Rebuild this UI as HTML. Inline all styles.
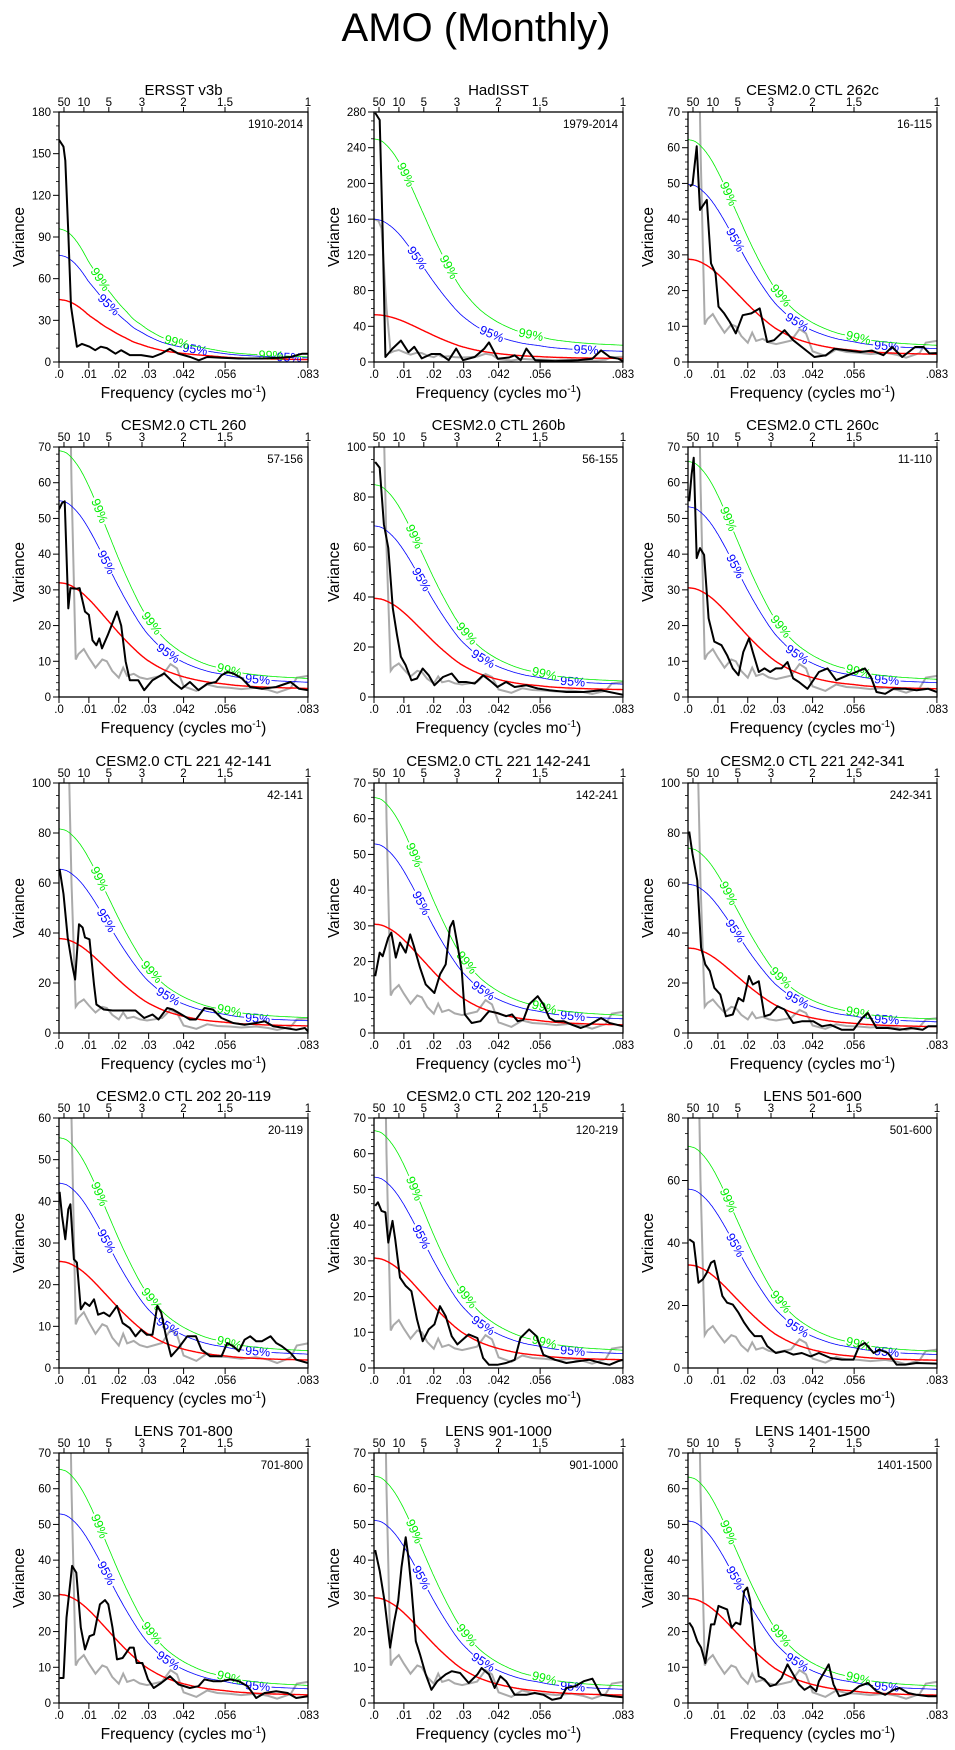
<!DOCTYPE html>
<html><head><meta charset="utf-8"><style>
html,body{margin:0;padding:0;background:#fff;}
svg{display:block;font-family:"Liberation Sans",Arial,sans-serif;}
</style></head><body>
<svg id="fig" width="955" height="1750" viewBox="0 0 955 1750" xmlns="http://www.w3.org/2000/svg">
<rect width="955" height="1750" fill="#fff"/>
<text x="476" y="41" font-size="40" text-anchor="middle">AMO (Monthly)</text>
</svg>
<script>
// ---- chart data (frequencies in 10^-3 cycles/month) ----
const panelTitles=["ERSST v3b","HadISST","CESM2.0 CTL 262c","CESM2.0 CTL 260","CESM2.0 CTL 260b","CESM2.0 CTL 260c","CESM2.0 CTL 221 42-141","CESM2.0 CTL 221 142-241","CESM2.0 CTL 221 242-341","CESM2.0 CTL 202 20-119","CESM2.0 CTL 202 120-219","LENS 501-600","LENS 701-800","LENS 901-1000","LENS 1401-1500"];
const rangeLabels=["1910-2014","1979-2014","16-115","57-156","56-155","11-110","42-141","142-241","242-341","20-119","120-219","501-600","701-800","901-1000","1401-1500"];
const yMax=[180,280,70,70,100,70,100,70,100,60,70,80,70,70,70];
const yStep=[30,40,10,10,20,10,20,10,20,10,10,20,10,10,10];
const minorPer=[3,4,5,5,4,5,4,5,4,5,5,4,5,5,5];
const redStart=[45,53,28.8,32,39.5,30.6,37.8,30.5,34,25.6,30.8,33,30.4,29.5,29.3];
const blueStart=[77,160,49.8,55,68.5,53.3,65.6,53,59.5,44.4,53.5,57.3,53,51.2,51];
const greenStart=[96,250,62.3,69,85,66,81.7,66,74,55.3,66.5,71,65.5,63.6,63.3];
const shapeKind=["obs","model","model","model","model","model","model","model","model","model","model","model","model","model","model"];
const shapeF=[0,2.5,5,7.5,10,12.5,15,17.5,20,22.5,25,27.5,30,35,40,45,50,55,60,70,83.3];
const shapeModel=[1,.99,.96,.915,.855,.785,.71,.635,.56,.49,.425,.365,.315,.24,.19,.155,.13,.115,.10,.085,.075];
const shapeObs=[1,.98,.93,.85,.75,.665,.58,.51,.44,.38,.32,.28,.24,.18,.145,.12,.1,.08,.065,.05,.038];
const label99F=[[13.8,39.4,71],[10.6,25,52.5]];
const label95F=[[16.6,45.5,77],[14.4,39.4,71]];
const label99Default=[13.5,31,57];
const label95Default=[15.8,36.5,66.5];
const grayF=[0,1.5,2.5,4.2,5.6,6.5,8.3,10,12.2,14.5,16,17.8,20,21.5,22.8,25,27,29.5,32,34.5,37.3,39.5,41.7,46,49.6,53,57,61,66,70,73,77.5,79.6,83.3];
const grayV=[160,158,150,60,10.5,12,13.4,11,8.2,10.5,10,7.3,5.4,8.2,5.9,6.5,5.5,5,5.5,6,9.2,8,3,1.7,3.5,2.8,2.6,2.2,2.6,2,1.2,2.5,5.4,5.9];
const xTickF=[0,10,20,30,41.7,55.6,83.3];
const xTickLabels=[".0",".01",".02",".03",".042",".056",".083"];
const topPeriods=[50,10,5,3,2,1.5,1];
const topLabels=["50","10","5","3","2","1.5","1"];

const blackF1=[0,1.5,2.1,3.1,4,6,7.7,10.2,12.1,14,16,18.9,20.8,23.7,27.5,31.4,34.2,37.1,40,43.9,46.8,49.6,54.4,60.2,67.9,73.7,77.5,81.4,83.3];
const blackV1=[160,155,145,93,40,11,13,11,8.5,11,10,6,8.5,5,5,3.6,6,9.6,6,3.6,1.2,3.6,3,2.5,2.5,3,3.6,6,6];
const blackF2=[0.4,1.9,2.9,3.8,6.2,9,11.5,13.5,16,19.2,22.1,25,27.5,29.8,33.7,36.9,38.5,41.4,45.2,47.1,49.1,51,53.9,60.6,68.3,73.1,76,78.9,81.8,83.3];
const blackV2=[279,271,144,5.6,15,24,11,17,4,9,9,2,15,2,5.6,15,22,3.7,5,7.5,2,15,2,1,2,3.7,13,5.6,3.7,1];
const blackF3=[0.6,1.5,2.9,4,6.3,7.7,9.2,10.2,12.1,14,16,18.3,21.2,24,26.5,28.8,32.3,35.2,38.1,42.3,46.2,49,53.8,57.7,61.5,65.4,68.3,71.7,76,78.8,80.8,83.3];
const blackV3=[49.2,49.7,60.4,42.6,45.4,27.6,24.8,15.5,13.6,11.2,8,13.1,13.6,15,5.6,6.1,8.9,6.1,4.2,1.4,1.9,3.7,3.2,2.8,3.2,1.9,4.2,1.4,4.2,4.2,2.4,2.5];
const blackF4=[0,1,1.9,3.1,3.8,5.8,6.9,8.7,10,11.2,12.5,13.5,14.4,16.3,19.4,20.8,22.3,23.7,26.5,28.5,31.3,35.2,38.1,41,43.8,46.7,49.6,52.5,54.4,56.3,58.3,61.2,64,67.9,72.7,77.5,80.4,83.3];
const blackV4=[52.5,54.3,54.8,24.8,30.5,30.3,30.5,23.9,23,15.9,14.5,16.4,13.6,17.3,23.9,20,10,4.7,4.7,1.9,4.7,6.6,4.2,2.3,4.2,1.9,3.7,4.2,6.1,7,6.6,5.2,2.8,2.3,2.8,4.2,2.3,1.9];
const blackF5=[0.4,1.9,3.3,4.8,6.3,7.7,9,10.6,12.5,14.4,16.3,18.3,20.2,23.1,26,28.3,30.8,33.7,36.5,39.4,41.3,44.2,47.1,51,54.8,58.7,64.4,70.2,76,83.3];
const blackV5=[94,91.7,69,59.6,35.5,24.8,16.1,12.7,6.7,7.4,11.4,8.7,4.7,8,9.4,6,6,5.4,8.7,6,4,6,4,4.7,3.4,2.7,2,2,2.7,0.9];
const blackF6=[0.4,1.2,1.9,2.9,4,5.4,6.9,8.8,11.2,13.1,15,16.9,18.5,20.4,21.7,23.7,25.6,27.5,29.4,31.3,33.3,35.2,37.1,40,43.8,46.7,49.6,53.5,56.3,59.2,61.2,63.1,66,68.8,72.7,76.5,80.4,83.3];
const blackV6=[54.8,62.3,67,38.9,41.7,39.8,22,15.5,14.5,11.7,8,6.1,12.6,16.4,12.6,7,8,7,8,8,9.8,5.2,4.2,2.3,7,8,4.7,6.1,7,8,5.6,1.4,0.9,2.3,2.3,1.9,2.3,1.4];
const blackF7=[0.2,1.5,2.9,4.4,5.4,6.7,7.9,8.7,10.2,11.7,12.5,15,17.9,21.7,25.6,28.5,31.3,33.3,36.2,38.1,41,43.8,45.8,48.7,51.5,54.4,58.3,62.1,66,68.8,71.7,75.6,79.4,82.3,83.3];
const blackV7=[65.6,55.6,38.2,27.4,21.4,43.5,42.2,38.2,37.5,19.4,11.4,9.4,9,9,9,6,7.4,5.4,10,9.4,7.4,5.4,5.4,10,9.4,6,4,3.3,4,4.7,2.7,2,1.3,2,0.7];
const blackF8=[0.4,1.9,2.9,4.8,5.8,7.3,8.7,10.6,12.1,13.5,15.4,17.3,20.2,22.1,24,25.4,26.5,27.9,29.4,30.4,32.7,35.6,38.5,41.3,44.2,46.2,48.1,50,51.9,54.8,56.7,58.7,60.6,63.5,66.3,69.2,72.1,76,78.8,83.3];
const blackV8=[15.9,22.5,21.5,26.7,28.1,21.1,25.3,22.5,27.6,23.9,18.3,13.6,11.2,16.4,19.2,29.5,31.4,24.8,17.3,5.2,2.8,3.3,6.1,5.6,4.7,5.2,3.3,3.7,8,10.3,8,4.2,3.3,3.3,2.3,1.4,2.3,4.2,2.8,1.9];
const blackF9=[0.4,1.5,3.1,4.4,5.8,7.3,8.8,10.8,12.7,15,16.9,18.5,20.4,21.7,23.7,25.6,27.5,30,32.3,35.2,38.1,41.9,44.8,47.7,51.5,55.4,58.3,60.2,63.1,66.9,70.8,74.6,78.5,80.4,83.3];
const blackV9=[80.6,71.6,61,34.1,27.4,24.8,18.1,15.4,6.7,7.4,14,12.7,22.8,19.4,20.7,6.7,7.4,10.7,9.4,4,4.7,4.7,2.7,3.3,1.3,1.3,6,8,2,2,1.3,2,1.3,2.7,2.7];
const blackF10=[0.2,1,2.1,3.1,3.8,5,6,7.3,8.7,10.2,11.7,13.1,15,16.9,19.4,21.3,23.7,25.6,27.5,29.4,31.3,32.9,34.2,35.8,37.5,40,42.9,45.8,47.7,50.6,54.4,56.3,58.3,60.2,62.1,64,66,67.9,70.8,72.7,74.6,77.5,79.4,83.3];
const blackV10=[42.3,36.6,30.9,38.1,39.3,26.1,25.3,14.1,15.7,14.9,16.5,12.8,13.3,12.4,14.9,10.8,9.6,7.6,9.2,8,8,14.9,13.3,7.6,2.8,4.8,7.6,7.6,4.4,2.8,2.8,6,5.2,4,6.8,7.6,6.4,6.4,7.6,6,5.2,3.6,2,1.2];
const blackF11=[0.4,1.3,2.5,3.8,4.8,6.2,7.1,8.7,10.6,12.5,14.4,16.3,18.3,20.2,22.1,24,26,27.9,29.8,31.7,34.6,36.5,38.5,41.3,44.2,47.1,49,51.9,54.4,56.7,60.6,64.4,68.3,72.1,76,78.8,81.7,83.3];
const blackV11=[45.4,46.4,44,43.6,35.1,41.2,36.1,25.3,23,21.5,13.6,7.5,10.8,12.2,17.3,14.5,8.9,6.6,8,9.4,8.4,2.8,0.9,0.9,1.4,2.3,8.4,10.8,8.9,3.7,2.3,1.4,1.9,2.3,1.4,0.9,1.9,2.3];
const blackF12=[0.4,1.9,3.5,5,6.3,7.7,8.8,10.2,11.5,13.1,15,16.9,18.8,20.4,22.3,24.6,26.5,29.4,32.3,35.2,38.1,41,43.8,47.7,51.5,55.4,57.3,59.2,62.1,64,66.9,69.8,72.7,76.5,83.3];
const blackV12=[41.2,40.2,27.3,28.4,30.5,33.7,34.3,28.4,23,20.9,20.3,17.7,14.5,12.3,10.2,10.2,7,4.8,5.4,4.3,4.8,3.7,4.8,3.2,2.7,2.7,7,8,4.8,5.9,4.8,1.1,1.1,1.6,1.4];
const blackF13=[0.2,1.5,2.5,4.4,5.8,7.3,8.7,10.2,11.7,13.7,15.4,16.5,17.9,19.4,21.3,23.7,25,26,27.9,29.8,31.7,34.2,37.1,40,43.8,46.7,48.7,51.5,54.4,57.3,60.2,63.1,66,68.8,72.7,76.5,79.4,83.3];
const blackV13=[7,7,23.9,38.4,36.5,21.1,15,18.7,19.2,27.6,28.8,27.6,21.1,12.2,12.6,15.5,15.5,11.2,11.2,6.6,4.2,5.6,7.5,5.2,4.2,4.7,6.6,6.1,6.1,6.6,6.1,4.7,1.4,2.8,3.3,2.8,1.4,1.9];
const blackF14=[0.4,1.9,3.5,5.4,6.7,8.1,9.2,10.6,11.5,12.5,14,15.4,17.3,19.2,21.2,24,26,28.8,31.7,34.6,36,38.5,40.4,42.3,44.2,47.1,51,53.8,56.7,59.6,62.5,64.4,67.3,70.2,73.1,76,79.8,83.3];
const blackV14=[42.8,37,28.6,15.5,22.5,28.6,38,46.4,40.8,32.3,17.3,13.6,8,3.7,6.1,8,8.9,8.4,5.6,8,9.8,8,4.2,7.5,6.1,2.3,2.3,2.8,2.3,0.9,1.4,4.2,4.7,6.1,6.8,2.3,1.9,1.6];
const blackF15=[0.4,1.5,3.1,4.4,5.8,6.9,7.7,8.8,10.2,11.5,13.1,14.6,16,17.5,18.8,19.8,20.8,22.3,23.7,25.6,27.5,29.4,31.3,33.3,35.2,37.1,39,41,42.9,43.8,45.8,47.1,48.7,50.6,52.5,54.4,57.3,60.2,63.1,66,68.8,70.8,73.7,76.5,80.4,83.3];
const blackV15=[22.5,21.1,17.3,15.5,11.2,17.3,22,22,27.2,26.7,26.2,21.1,22.5,22,31.4,32.3,28.6,16.4,7.5,6.6,4.7,5.2,7,10.8,8,5.2,3.7,4.7,3.3,6.1,8.9,10.8,5.2,1.9,2.3,2.8,4.7,5.6,3.3,2.3,3.7,4.2,2.8,2.3,1.9,1.9];
const blackFAll=[blackF1,blackF2,blackF3,blackF4,blackF5,blackF6,blackF7,blackF8,blackF9,blackF10,blackF11,blackF12,blackF13,blackF14,blackF15];
const blackVAll=[blackV1,blackV2,blackV3,blackV4,blackV5,blackV6,blackV7,blackV8,blackV9,blackV10,blackV11,blackV12,blackV13,blackV14,blackV15];

// ---- drawing ----
const NS="http://www.w3.org/2000/svg";
const svg=document.getElementById("fig");
const FMAX=83.333, W=249, H=250;
function mk(tag,attrs,parent){const e=document.createElementNS(NS,tag);for(const k in attrs)e.setAttribute(k,attrs[k]);(parent||svg).appendChild(e);return e;}
function interp(fs,vs,f){
  const n=fs.length;if(f<=fs[0])return vs[0];if(f>=fs[n-1])return vs[n-1];
  let i=0;while(fs[i+1]<f)i++;
  const h=fs[i+1]-fs[i],t=(f-fs[i])/h;
  const m0=i>0?(vs[i+1]-vs[i-1])/(fs[i+1]-fs[i-1]):(vs[1]-vs[0])/(fs[1]-fs[0]);
  const m1=i+2<n?(vs[i+2]-vs[i])/(fs[i+2]-fs[i]):(vs[n-1]-vs[n-2])/(fs[n-1]-fs[n-2]);
  const t2=t*t,t3=t2*t;
  return (2*t3-3*t2+1)*vs[i]+(t3-2*t2+t)*h*m0+(-2*t3+3*t2)*vs[i+1]+(t3-t2)*h*m1;
}

for(let p=0;p<15;p++){
  const col=p%3,row=Math.floor(p/3);
  const L=Math.round(59+col*314.5),T=Math.round(112+row*335.25),R=L+W,B=T+H;
  const xs=f=>L+f/FMAX*W;
  const ys=v=>B-v/yMax[p]*H;
  const g=mk("g",{});
  
  
  const cp=mk("clipPath",{id:"clip"+p},g);
  mk("rect",{x:L,y:T,width:W,height:H},cp);

  const t=mk("text",{x:L+W/2,y:T-17,"font-size":15,"text-anchor":"middle"},g);t.textContent=panelTitles[p];
  
  
  const rl=mk("text",{x:R-5,y:T+16,"font-size":11.5,"text-anchor":"end"},g);rl.textContent=rangeLabels[p];
  
  

  const ya=mk("g",{},g);
  
  
  for(let v=0;v<=yMax[p]+1e-6;v+=yStep[p]){
    mk("line",{x1:L-6,x2:L,y1:ys(v),y2:ys(v),stroke:"#000","stroke-width":1},ya);
    const tl=mk("text",{x:L-8,y:ys(v)+4,"font-size":11.5,"text-anchor":"end"},ya);tl.textContent=v;
    
    
    if(v<yMax[p]-1e-6){for(let k=1;k<minorPer[p];k++){const vv=v+k*yStep[p]/minorPer[p];mk("line",{x1:L-3,x2:L,y1:ys(vv),y2:ys(vv),stroke:"#000","stroke-width":0.8},ya);}}
  }
  const yt=mk("text",{x:0,y:0,"font-size":15.5,"text-anchor":"middle",transform:`translate(${L-35},${T+H/2}) rotate(-90)`},g);yt.textContent="Variance";
  
  

  const xa=mk("g",{},g);
  
  
  xTickF.forEach((f,i)=>{
    mk("line",{x1:xs(f),x2:xs(f),y1:B,y2:B+6,stroke:"#000","stroke-width":1},xa);
    const tl=mk("text",{x:xs(f),y:B+16,"font-size":11.5,"text-anchor":"middle"},xa);tl.textContent=xTickLabels[i];
    
    
  });
  const xt=mk("text",{x:L+W/2,y:B+36,"font-size":15.5,"text-anchor":"middle"},g);
  
  
  xt.appendChild(document.createTextNode("Frequency (cycles mo"));
  const sup=mk("tspan",{"font-size":10,dy:-6},xt);sup.textContent="-1";
  const cl=mk("tspan",{"font-size":15.5,dy:6},xt);cl.textContent=")";
  const ta=mk("g",{},g);
  
  
  topPeriods.forEach((P,i)=>{
    const f=1000/(12*P);
    mk("line",{x1:xs(f),x2:xs(f),y1:T-5,y2:T,stroke:"#000","stroke-width":1},ta);
    const tl=mk("text",{x:xs(f),y:T-6,"font-size":11.5,"text-anchor":"middle"},ta);tl.textContent=topLabels[i];
    
    
  });

  const data=mk("g",{"clip-path":`url(#clip${p})`},g);
  if(p>0){
    let d="";grayF.forEach((f,i)=>{d+=(i?"L":"M")+xs(f).toFixed(1)+","+ys(grayV[i]).toFixed(1);});
    const gp=mk("path",{d:d,fill:"none",stroke:"#aaaaaa","stroke-width":2},data);
    
    
  }
  const shape=shapeKind[p]==="obs"?shapeObs:shapeModel;
  const curves=[["red-noise-line","#ff0000",1.4,redStart[p],null,null],
                ["confidence-95-line","#0000ff",0.8,blueStart[p],"95%",p<2?label95F[p]:label95Default],
                ["confidence-99-line","#00ee00",0.8,greenStart[p],"99%",p<2?label99F[p]:label99Default]];
  curves.forEach(c=>{
    const pts=[];for(let k=0;k<=300;k++){const f=FMAX*k/300;pts.push([xs(f),ys(c[3]*interp(shapeF,shape,f))]);}
    const labs=[];
    if(c[5]){c[5].forEach(f=>{
      const x=xs(f),y=ys(c[3]*interp(shapeF,shape,f));
      const x2=xs(f+0.5),y2=ys(c[3]*interp(shapeF,shape,f+0.5));
      labs.push([x,y,Math.atan2(y2-y,x2-x)*180/Math.PI]);
    });}
    let d="",pen=false;
    pts.forEach(pt=>{
      const hide=labs.some(l=>Math.hypot(pt[0]-l[0],pt[1]-l[1])<13);
      if(hide){pen=false;return;}
      d+=(pen?"L":"M")+pt[0].toFixed(1)+","+pt[1].toFixed(1);pen=true;
    });
    const cp2=mk("path",{d:d,fill:"none",stroke:c[1],"stroke-width":c[2]},data);
    
    
    labs.forEach(l=>{
      const tx=mk("text",{x:0,y:0,"font-size":12.5,fill:c[1],"text-anchor":"middle","dominant-baseline":"central",transform:`translate(${l[0].toFixed(1)},${l[1].toFixed(1)}) rotate(${l[2].toFixed(1)})`},data);
      tx.textContent=c[4];
      
      
    });
  });
  const bf=blackFAll[p],bv=blackVAll[p];
  let d="";bf.forEach((f,i)=>{d+=(i?"L":"M")+xs(f).toFixed(1)+","+ys(bv[i]).toFixed(1);});
  const bp=mk("path",{d:d,fill:"none",stroke:"#000","stroke-width":2,"stroke-linejoin":"round"},data);
  
  

  const fr=mk("rect",{x:L,y:T,width:W,height:H,fill:"none",stroke:"#000","stroke-width":1.3},g);
  
  
}
</script>
</body></html>
